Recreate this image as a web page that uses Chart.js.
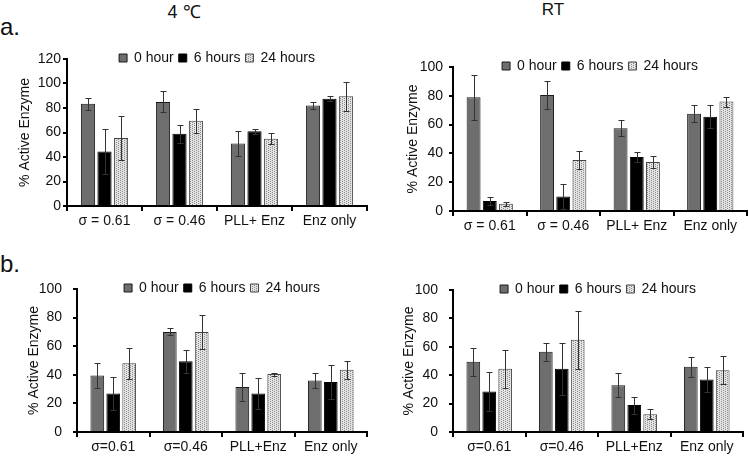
<!DOCTYPE html>
<html>
<head>
<meta charset="utf-8">
<script src="https://cdn.jsdelivr.net/npm/chart.js@4/dist/chart.umd.min.js"></script>
<style>
  body { margin: 0; background: #fff; }
  #page { position: relative; width: 749px; height: 456px; overflow: hidden; font-family: "Liberation Sans", Arial, sans-serif; color: #111; }
  .box { position: absolute; }
  .txt { position: absolute; white-space: nowrap; }
</style>
</head>
<body>
<div id="page">
  <div class="txt" style="left:184px; top:3px; font-size:18px; line-height:18px; transform:translateX(-50%);">4 ℃</div>
  <div class="txt" style="left:553px; top:1px; font-size:17px; line-height:17px; transform:translateX(-50%);">RT</div>
  <div class="txt" style="left:0px; top:15px; font-size:24px; line-height:24px;">a.</div>
  <div class="txt" style="left:0px; top:252px; font-size:24px; line-height:24px;">b.</div>
  <div class="box" style="left:0px; top:40px;"><canvas id="a4" width="375" height="200"></canvas></div>
  <div class="box" style="left:375px; top:40px;"><canvas id="aRT" width="374" height="200"></canvas></div>
  <div class="box" style="left:0px; top:240px;"><canvas id="b4" width="375" height="216"></canvas></div>
  <div class="box" style="left:375px; top:240px;"><canvas id="bRT" width="374" height="216"></canvas></div>
</div>
<script>
const groupsA = ["σ = 0.61", "σ = 0.46", "PLL+ Enz", "Enz only"];
const groupsB = ["σ=0.61", "σ=0.46", "PLL+Enz", "Enz only"];
const seriesNames = ["0 hour", "6 hours", "24 hours"];
const yTitle = "% Active Enzyme";

// a. 4 C
const a4_0h = [83.5, 85, 51, 82];
const a4_0hErr = [5, 8.5, 10, 3];
const a4_6h = [44.5, 59, 61, 87.5];
const a4_6hErr = [18, 7.5, 2, 2];
const a4_24h = [55.5, 69.5, 55, 89.5];
const a4_24hErr = [18, 10, 4.5, 12];

// a. RT
const aRT_0h = [79, 80.5, 57.5, 67.5];
const aRT_0hErr = [15.5, 9.5, 5.5, 6];
const aRT_6h = [7, 10, 37.5, 65.5];
const aRT_6hErr = [2.5, 8.5, 3.5, 8];
const aRT_24h = [5, 35.5, 34, 76];
const aRT_24hErr = [1.5, 6, 4, 3.5];

// b. 4 C
const b4_0h = [39.5, 70, 31.5, 36];
const b4_0hErr = [9, 2.5, 10, 5];
const b4_6h = [27, 49.5, 27, 35];
const b4_6hErr = [11.5, 8, 11, 12];
const b4_24h = [48, 70, 40.5, 43.5];
const b4_24hErr = [11, 12, 1, 6.5];

// b. RT
const bRT_0h = [49.5, 56.5, 33, 46];
const bRT_0hErr = [10, 6.5, 8.5, 7];
const bRT_6h = [28.5, 44.5, 19, 37];
const bRT_6hErr = [14, 18.5, 6, 8.5];
const bRT_24h = [44.5, 65, 12.5, 43.5];
const bRT_24hErr = [13.5, 20.5, 3.5, 10];

// dotted fill for the 24 hours bars
function makeDots() {
  const c = document.createElement("canvas");
  c.width = 4;
  c.height = 4;
  const g = c.getContext("2d");
  g.fillStyle = "#e4e4e4";
  g.fillRect(0, 0, 4, 4);
  g.fillStyle = "#8a8a8a";
  [[0, 0], [2, 1], [0, 2], [2, 3]].forEach(([x, y]) => g.fillRect(x, y, 1, 1));
  return g.createPattern(c, "repeat");
}
const dots = makeDots();

const errorBars = {
  id: "errorBars",
  afterDatasetsDraw(chart) {
    const ctx = chart.ctx;
    const y = chart.scales.y;
    ctx.save();
    ctx.strokeStyle = "#333";
    ctx.lineWidth = 1;
    chart.data.datasets.forEach((ds, i) => {
      chart.getDatasetMeta(i).data.forEach((bar, j) => {
        const v = ds.data[j];
        const e = ds.errors[j];
        const top = Math.round(y.getPixelForValue(v + e)) + 0.5;
        const bot = Math.round(y.getPixelForValue(Math.max(0, v - e))) + 0.5;
        const x = Math.round(bar.x) + 0.5;
        ctx.beginPath();
        ctx.moveTo(x, top);
        ctx.lineTo(x, bot);
        ctx.moveTo(x - 3, top);
        ctx.lineTo(x + 3, top);
        ctx.moveTo(x - 3, bot);
        ctx.lineTo(x + 3, bot);
        ctx.stroke();
      });
    });
    ctx.restore();
  },
};

const legendPad = 5;

// legend takes no room and sits on the top edge of the plot
const legendUp = {
  id: "legendUp",
  beforeLayout(chart) {
    const lg = chart.legend;
    if (lg && !lg._flat) {
      const fit = lg.fit;
      lg.fit = function () {
        fit.call(this);
        this.height = 0;
      };
      lg._flat = true;
    }
  },
  afterLayout(chart) {
    const lg = chart.legend;
    lg.top = chart.chartArea.top - legendPad - 8;
    lg.height = 24;
    lg.bottom = lg.top + 24;
  },
};

function drawPanel(id, labels, values, errors, yMax, s) {
  const colors = ["#6e6e6e", "#000000", dots];
  const borders = ["#1a1a1a", "#000000", "#444444"];
  new Chart(document.getElementById(id), {
    type: "bar",
    data: {
      labels: labels,
      datasets: seriesNames.map((name, k) => ({
        label: name,
        data: values[k],
        errors: errors[k],
        backgroundColor: colors[k],
        borderColor: borders[k],
        borderWidth: 1,
        categoryPercentage: 0.66,
        barPercentage: 0.86,
      })),
    },
    options: {
      responsive: false,
      animation: false,
      devicePixelRatio: 1,
      layout: { padding: { top: s.top, right: s.right, left: 0, bottom: 0 } },
      plugins: {
        tooltip: { enabled: false },
        legend: {
          position: "top",
          fullSize: false,
          align: "center",
          labels: {
            boxWidth: 8,
            boxHeight: 8,
            padding: legendPad,
            color: "#111",
            font: { family: "Liberation Sans, Arial, sans-serif", size: 14 },
          },
        },
      },
      scales: {
        x: {
          afterFit: (scale) => { scale.height = s.xh; },
          border: { display: true, color: "#000", width: 2 },
          grid: { display: true, offset: true, drawOnChartArea: false, drawTicks: true, tickLength: 5, color: "#000", lineWidth: 2 },
          ticks: { color: "#111", padding: 2, maxRotation: 0, font: { family: "Liberation Sans, Arial, sans-serif", size: 14 } },
        },
        y: {
          min: 0,
          max: yMax,
          afterFit: (scale) => { scale.width = s.yw; },
          border: { display: true, color: "#000", width: 2 },
          grid: { drawOnChartArea: false, drawTicks: true, tickLength: 4, color: "#000", lineWidth: 2 },
          ticks: { stepSize: 20, color: "#111", padding: s.tp, font: { family: "Liberation Sans, Arial, sans-serif", size: 14 } },
          title: {
            display: true,
            text: yTitle,
            color: "#111",
            padding: { top: s.tt, bottom: 0 },
            font: { family: "Liberation Sans, Arial, sans-serif", size: 14 },
          },
        },
      },
    },
    plugins: [errorBars, legendUp],
  });
}

drawPanel("a4", groupsA, [a4_0h, a4_6h, a4_24h], [a4_0hErr, a4_6hErr, a4_24hErr], 120,
  { top: 19, right: 8, xh: 34, yw: 67, tp: 2, tt: 17 });
drawPanel("aRT", groupsA, [aRT_0h, aRT_6h, aRT_24h], [aRT_0hErr, aRT_6hErr, aRT_24hErr], 100,
  { top: 27, right: 2, xh: 29, yw: 78, tp: 6, tt: 30 });
drawPanel("b4", groupsB, [b4_0h, b4_6h, b4_24h], [b4_0hErr, b4_6hErr, b4_24hErr], 100,
  { top: 49, right: 8, xh: 24, yw: 77, tp: 11, tt: 26 });
drawPanel("bRT", groupsB, [bRT_0h, bRT_6h, bRT_24h], [bRT_0hErr, bRT_6hErr, bRT_24hErr], 100,
  { top: 50, right: 6, xh: 24, yw: 78, tp: 11, tt: 26 });
</script>
</body>
</html>
